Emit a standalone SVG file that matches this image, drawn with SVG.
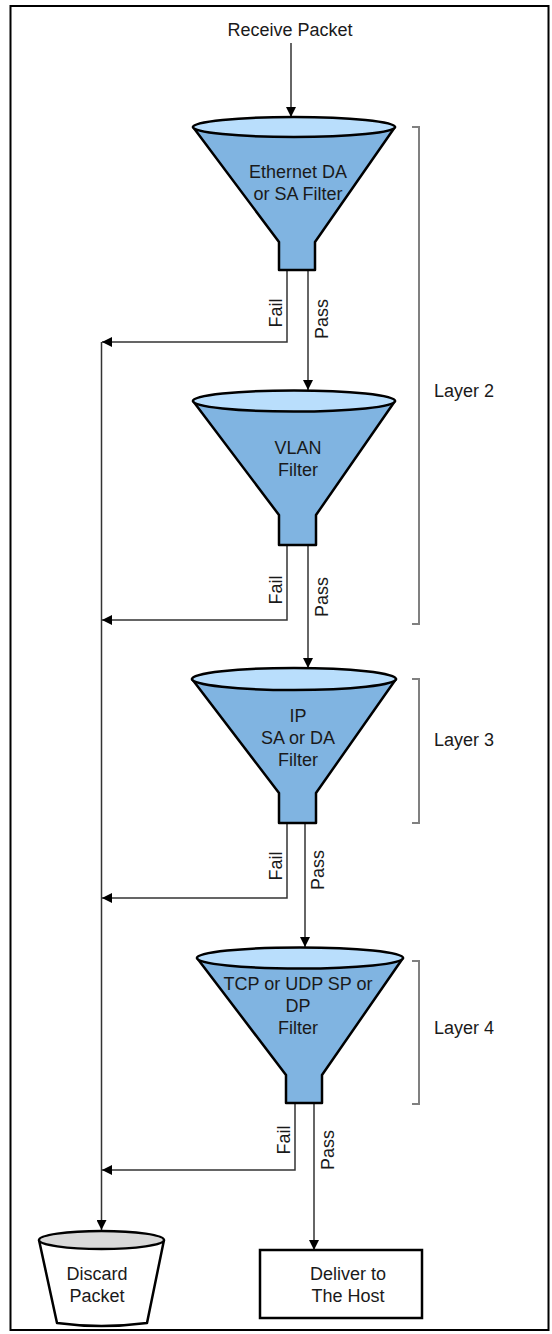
<svg xmlns="http://www.w3.org/2000/svg" width="552" height="1334" viewBox="0 0 552 1334">
<style>
text{font-family:"Liberation Sans",Arial,sans-serif;font-size:18px;fill:#1a1a1a}
.c{text-anchor:middle}
.cone{fill:#80b4e1;stroke:#000;stroke-width:2.5;stroke-linejoin:round}
.top{fill:#b9defc;stroke:#000;stroke-width:2.5}
.ln{fill:none;stroke:#333;stroke-width:1.5}
.br{fill:none;stroke:#808080;stroke-width:2}
</style>
<defs>
<marker id="ah" viewBox="0 0 10 10" refX="10" refY="5" markerWidth="10" markerHeight="10" markerUnits="userSpaceOnUse" orient="auto">
<path d="M0,0 L10,5 L0,10 Z" fill="#000"/>
</marker>
</defs>
<rect x="10.5" y="6" width="538" height="1324" fill="#fff" stroke="#000" stroke-width="2"/>
<g id="receive"><text class="c" x="290" y="36">Receive Packet</text></g>
<g id="connectors">
<line class="ln" x1="291" y1="43" x2="291" y2="117" marker-end="url(#ah)"/>
<polyline class="ln" points="287,271 287,342 102,342" marker-end="url(#ah)"/>
<line class="ln" x1="308" y1="271" x2="308" y2="390" marker-end="url(#ah)"/>
<polyline class="ln" points="287,545 287,620 102,620" marker-end="url(#ah)"/>
<line class="ln" x1="308" y1="545" x2="308" y2="668" marker-end="url(#ah)"/>
<polyline class="ln" points="287,823 287,898 102,898" marker-end="url(#ah)"/>
<line class="ln" x1="305" y1="823" x2="305" y2="947" marker-end="url(#ah)"/>
<polyline class="ln" points="295,1103 295,1170 102,1170" marker-end="url(#ah)"/>
<line class="ln" x1="314" y1="1103" x2="314" y2="1250" marker-end="url(#ah)"/>
<line class="ln" x1="101.5" y1="342" x2="101.5" y2="1230" marker-end="url(#ah)"/>
<text class="c" transform="translate(282,313) rotate(-90)">Fail</text>
<text class="c" transform="translate(328,319) rotate(-90)">Pass</text>
<text class="c" transform="translate(282,590) rotate(-90)">Fail</text>
<text class="c" transform="translate(328,597) rotate(-90)">Pass</text>
<text class="c" transform="translate(282,866) rotate(-90)">Fail</text>
<text class="c" transform="translate(324,870) rotate(-90)">Pass</text>
<text class="c" transform="translate(290,1140) rotate(-90)">Fail</text>
<text class="c" transform="translate(334,1150) rotate(-90)">Pass</text>
</g>
<g id="filter1">
<path class="cone" d="M193,127 L279,242 L279,270 L315,270 L315,242 L395,127 Z"/>
<ellipse class="top" cx="294" cy="127" rx="101" ry="10"/>
<text class="c" x="298" y="178">Ethernet DA</text>
<text class="c" x="298" y="200">or SA Filter</text>
</g>
<g id="filter2">
<path class="cone" d="M193,401 L279,515 L279,545 L316,545 L316,515 L395,401 Z"/>
<ellipse class="top" cx="294" cy="401" rx="101" ry="10.5"/>
<text class="c" x="298" y="454">VLAN</text>
<text class="c" x="298" y="476">Filter</text>
</g>
<g id="filter3">
<path class="cone" d="M192,679 L279,793 L279,823 L316,823 L316,793 L396,679 Z"/>
<ellipse class="top" cx="294" cy="679" rx="102" ry="11"/>
<text class="c" x="298" y="722">IP</text>
<text class="c" x="298" y="744">SA or DA</text>
<text class="c" x="298" y="766">Filter</text>
</g>
<g id="filter4">
<path class="cone" d="M197,958 L286,1075 L286,1103 L322,1103 L322,1075 L403,958 Z"/>
<ellipse class="top" cx="300" cy="958" rx="103" ry="10.5"/>
<text class="c" x="298" y="990">TCP or UDP SP or</text>
<text class="c" x="298" y="1012">DP</text>
<text class="c" x="298" y="1034">Filter</text>
</g>
<g id="layer2">
<polyline class="br" points="412,127 419,127 419,624 412,624"/>
<text x="434" y="397">Layer 2</text>
</g>
<g id="layer3">
<polyline class="br" points="412,679 419,679 419,823 412,823"/>
<text x="434" y="746">Layer 3</text>
</g>
<g id="layer4">
<polyline class="br" points="412,961 419,961 419,1104 412,1104"/>
<text x="434" y="1034">Layer 4</text>
</g>
<g id="discard">
<path d="M39,1240 L57,1323 Q101,1329 147,1323 L164,1240" fill="#fff" stroke="#000" stroke-width="2.5" stroke-linejoin="round"/>
<ellipse cx="101.5" cy="1240" rx="62.5" ry="9" fill="#d9d9d9" stroke="#000" stroke-width="2.5"/>
<text class="c" x="97" y="1280">Discard</text>
<text class="c" x="97" y="1302">Packet</text>
</g>
<g id="deliver">
<rect x="260" y="1250" width="162" height="68" fill="#fff" stroke="#000" stroke-width="2.5"/>
<text class="c" x="348" y="1280">Deliver to</text>
<text class="c" x="348" y="1302">The Host</text>
</g>
</svg>
